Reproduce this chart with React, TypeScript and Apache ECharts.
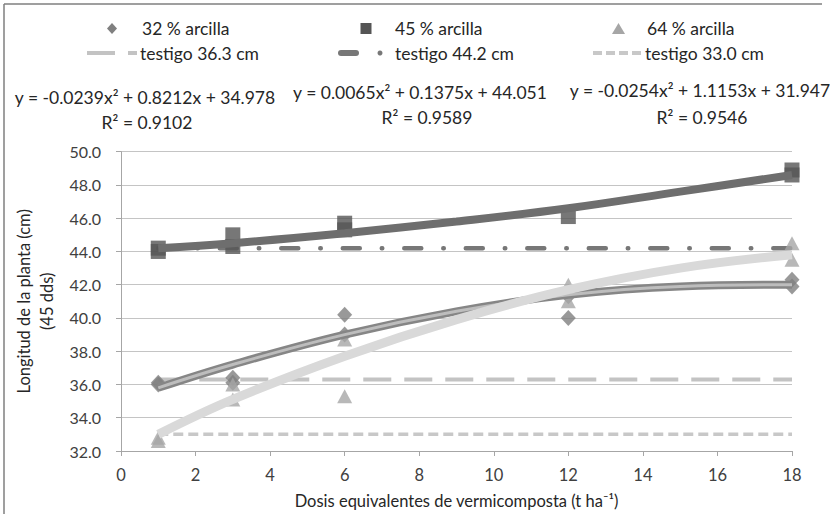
import React, { useEffect, useRef } from "react";
import * as echarts from "echarts";

const x32 = [1, 1, 3, 3, 6, 6, 12, 12, 18, 18];
const y32 = [36.1, 36.0, 36.4, 36.1, 40.2, 39.0, 40.0, 41.3, 42.3, 41.9];
const x45 = [1, 1, 3, 3, 6, 6, 12, 18, 18];
const y45 = [44.0, 44.2, 45.0, 44.3, 45.7, 45.3, 46.1, 48.9, 48.6];
const x64 = [1, 1, 3, 3, 6, 6, 12, 12, 18, 18];
const y64 = [32.6, 32.8, 36.0, 35.1, 38.7, 35.3, 42.0, 41.0, 44.5, 43.5];

// Trend curves
const xTrend = [1, 3, 6, 9, 12, 15, 18];
const t32 = [35.8, 37.2, 39.0, 40.4, 41.4, 41.9, 42.0];
const t45 = [44.2, 44.5, 45.1, 45.8, 46.6, 47.6, 48.6];
const t64 = [33.0, 35.1, 37.7, 39.9, 41.7, 43.0, 43.8];

// Control (testigo) levels
const testigoX = [1, 18];
const testigo1 = 36.3;
const testigo2 = 44.2;
const testigo3 = 33.0;

const legendNames = ["32 % arcilla", "45 % arcilla", "64 % arcilla"];
const legendTestigo = ["testigo 36.3 cm", "testigo 44.2 cm", "testigo 33.0 cm"];
const equations = [
  "y = -0.0239x² + 0.8212x + 34.978",
  "y = 0.0065x² + 0.1375x + 44.051",
  "y = -0.0254x² + 1.1153x + 31.947",
];
const r2 = ["R² = 0.9102", "R² = 0.9589", "R² = 0.9546"];

const FONT = "Lato";
const TXT = "#262626";

const zip = (xs: number[], ys: number[]) => xs.map((x, i) => [x, ys[i]]);
const flat = (v: number) => testigoX.map((x) => [x, v]);

export default function App() {
  const ref = useRef<HTMLDivElement>(null);
  useEffect(() => {
    const chart = echarts.init(ref.current!, null, { renderer: "svg" });
    const text = (t: string, x: number, y: number, align = "left") => ({
      type: "text",
      x,
      y,
      style: { text: t, fill: TXT, font: `17.5px ${FONT}`, align, verticalAlign: "middle" },
    });
    chart.setOption({
      animation: false,
      backgroundColor: "#fff",
      textStyle: { fontFamily: FONT },
      grid: { left: 121, right: 38, top: 151.7, bottom: 62 },
      xAxis: {
        type: "value",
        min: 0,
        max: 18,
        interval: 2,
        name: "Dosis equivalentes de vermicomposta (t ha⁻¹)",
        nameLocation: "middle",
        nameGap: 41,
        nameTextStyle: { fontSize: 16.5, color: TXT, fontFamily: FONT },
        axisLine: { lineStyle: { color: "#a6a6a6", width: 1 } },
        axisTick: { show: true, length: 5, lineStyle: { color: "#a6a6a6" } },
        axisLabel: { fontSize: 16.5, color: "#404040", margin: 15, fontFamily: FONT },
        splitLine: { show: false },
      },
      yAxis: {
        type: "value",
        min: 32,
        max: 50,
        interval: 2,
        name: "Longitud de la planta (cm)\n(45 dds)",
        nameLocation: "middle",
        nameRotate: 90,
        nameGap: 58,
        nameTextStyle: { fontSize: 16.5, color: TXT, lineHeight: 23, fontFamily: FONT, align: "center" },
        axisLine: { show: true, lineStyle: { color: "#a6a6a6", width: 1 } },
        axisTick: { show: true, length: 5, lineStyle: { color: "#a6a6a6" } },
        axisLabel: {
          fontSize: 16,
          color: "#404040",
          margin: 20,
          fontFamily: FONT,
          formatter: (v: number) => v.toFixed(1),
        },
        splitLine: { show: true, lineStyle: { color: "#c4c4c4", width: 1 } },
      },
      series: [
        {
          name: legendTestigo[0],
          type: "line",
          data: flat(testigo1),
          symbol: "none",
          lineStyle: { color: "#c3c3c3", width: 4, type: [28, 13] },
          z: 2,
        },
        {
          name: legendTestigo[1],
          type: "line",
          data: flat(testigo2),
          symbol: "none",
          lineStyle: { color: "#777777", width: 4.5, type: [17, 22, 0.5, 22], cap: "round" },
          z: 2,
        },
        {
          name: legendTestigo[2],
          type: "line",
          data: flat(testigo3),
          symbol: "none",
          lineStyle: { color: "#c8c8c8", width: 3.5, type: [10, 5] },
          z: 2,
        },
        {
          name: legendNames[0],
          type: "scatter",
          data: zip(x32, y32),
          symbol: "diamond",
          symbolSize: [15, 16],
          itemStyle: { color: "#808080" },
          z: 3,
        },
        {
          name: legendNames[1],
          type: "scatter",
          data: zip(x45, y45),
          symbol: "rect",
          symbolSize: 15,
          itemStyle: { color: "#555555" },
          z: 3,
        },
        {
          name: legendNames[2],
          type: "scatter",
          data: zip(x64, y64),
          symbol: "triangle",
          symbolSize: [15, 14],
          itemStyle: { color: "#a6a6a6" },
          z: 3,
        },
        {
          name: "trend 32 outer",
          type: "line",
          data: zip(xTrend, t32),
          smooth: 0.4,
          symbol: "none",
          lineStyle: { color: "#868686", width: 8 },
          z: 4,
        },
        {
          name: "trend 32 inner",
          type: "line",
          data: zip(xTrend, t32),
          smooth: 0.4,
          symbol: "none",
          lineStyle: { color: "#bdbdbd", width: 3 },
          z: 4,
        },
        {
          name: "trend 64",
          type: "line",
          data: zip(xTrend, t64),
          smooth: 0.4,
          symbol: "none",
          lineStyle: { color: "#d9d9d9", width: 9 },
          z: 5,
        },
        {
          name: "trend 45",
          type: "line",
          data: zip(xTrend, t45),
          smooth: 0.4,
          symbol: "none",
          lineStyle: { color: "#6e6e6e", width: 8 },
          z: 6,
        },
      ],
      graphic: [
        { type: "line", shape: { x1: 4, y1: 4, x2: 822, y2: 4 }, style: { stroke: "#7f7f7f", lineWidth: 1.5 } },
        { type: "line", shape: { x1: 4, y1: 4, x2: 4, y2: 514 }, style: { stroke: "#7f7f7f", lineWidth: 1.5 } },
        // legend row 1
        { type: "polygon", shape: { points: [[112, 23], [117, 28.5], [112, 34], [107, 28.5]] }, style: { fill: "#808080" } },
        text(legendNames[0], 142, 28.5),
        { type: "rect", shape: { x: 360.5, y: 23, width: 11, height: 11 }, style: { fill: "#555555" } },
        text(legendNames[1], 395, 28.5),
        { type: "polygon", shape: { points: [[618.5, 23], [625, 34], [612, 34]] }, style: { fill: "#a6a6a6" } },
        text(legendNames[2], 647, 28.5),
        // legend row 2
        { type: "line", shape: { x1: 87, y1: 53, x2: 115, y2: 53 }, style: { stroke: "#c3c3c3", lineWidth: 4 } },
        { type: "line", shape: { x1: 128, y1: 53, x2: 137, y2: 53 }, style: { stroke: "#c3c3c3", lineWidth: 4 } },
        text(legendTestigo[0], 140, 53),
        { type: "line", shape: { x1: 341, y1: 53, x2: 356, y2: 53 }, style: { stroke: "#777777", lineWidth: 6, lineCap: "round" } },
        { type: "circle", shape: { cx: 380, cy: 53, r: 2.5 }, style: { fill: "#777777" } },
        text(legendTestigo[1], 395, 53),
        { type: "line", shape: { x1: 593, y1: 53, x2: 643, y2: 53 }, style: { stroke: "#c8c8c8", lineWidth: 4, lineDash: [9, 4] } },
        text(legendTestigo[2], 645, 53),
        // equations
        text(equations[0], 145, 97, "center"),
        text(r2[0], 147, 122, "center"),
        text(equations[1], 420, 92, "center"),
        text(r2[1], 427, 117, "center"),
        text(equations[2], 700, 90, "center"),
        text(r2[2], 702, 117, "center"),
      ],
    });
    return () => chart.dispose();
  }, []);
  return <div ref={ref} style={{ position: "fixed", left: 0, top: 0, width: 830, height: 514 }} />;
}
